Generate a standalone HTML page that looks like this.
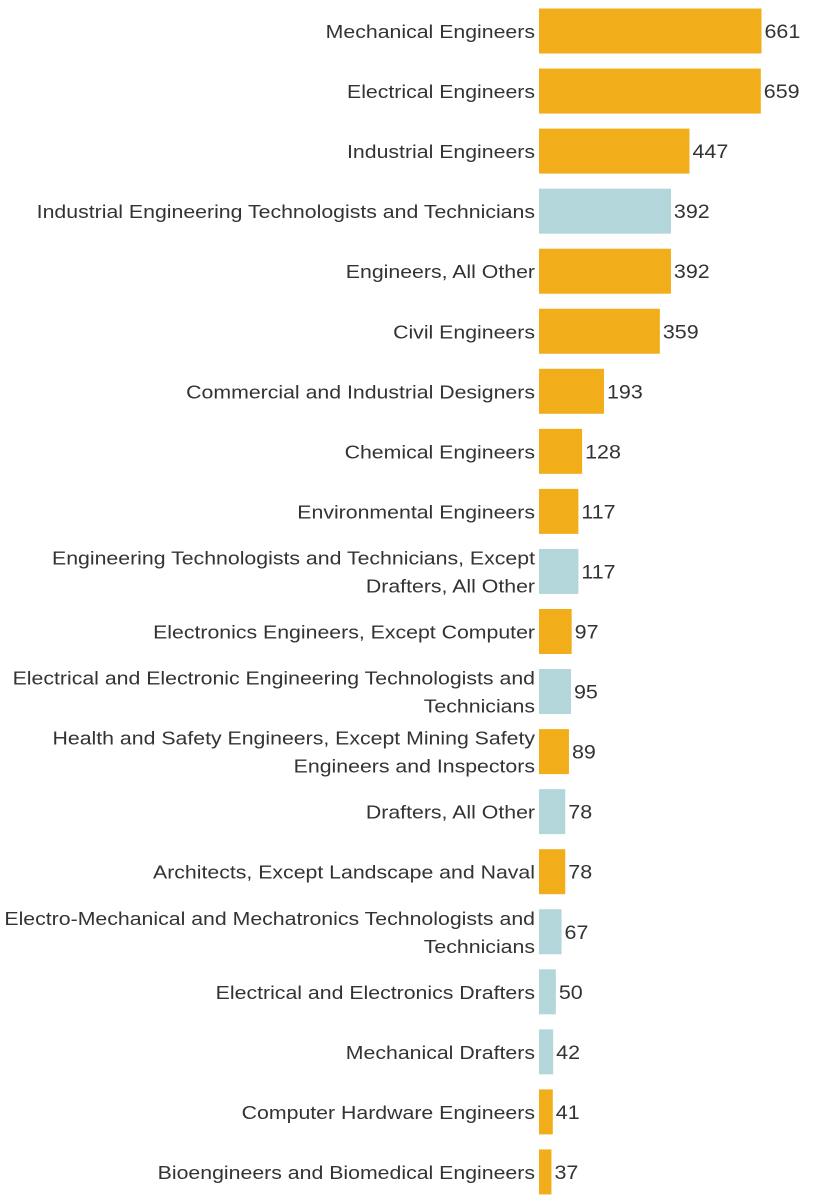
<!DOCTYPE html>
<html><head><meta charset="utf-8"><style>
html,body{margin:0;padding:0;background:#fff;}
svg{display:block;font-family:"Liberation Sans",sans-serif;}
</style></head><body>
<svg id="chart" width="813" height="1202" viewBox="0 0 813 1202"></svg>
<script>
const categories = [
 ["Mechanical Engineers"],["Electrical Engineers"],["Industrial Engineers"],
 ["Industrial Engineering Technologists and Technicians"],["Engineers, All Other"],
 ["Civil Engineers"],["Commercial and Industrial Designers"],["Chemical Engineers"],
 ["Environmental Engineers"],["Engineering Technologists and Technicians, Except","Drafters, All Other"],
 ["Electronics Engineers, Except Computer"],["Electrical and Electronic Engineering Technologists and","Technicians"],
 ["Health and Safety Engineers, Except Mining Safety","Engineers and Inspectors"],["Drafters, All Other"],
 ["Architects, Except Landscape and Naval"],["Electro-Mechanical and Mechatronics Technologists and","Technicians"],
 ["Electrical and Electronics Drafters"],["Mechanical Drafters"],["Computer Hardware Engineers"],
 ["Bioengineers and Biomedical Engineers"]
];
const values = [661,659,447,392,392,359,193,128,117,117,97,95,89,78,78,67,50,42,41,37];
const groups = ["eng","eng","eng","tech","eng","eng","eng","eng","eng","tech","eng","tech","eng","tech","eng","tech","tech","tech","eng","eng"];
const colors = {eng:"#F1AE1A", tech:"#B2D6DA"};
const svg = document.getElementById('chart');
const NS = "http://www.w3.org/2000/svg";
const x0 = 539, xScale = v => x0 + v * (222.5/661);
const yCenter = i => 31 + i * 60.05;
const barH = 45;
function stretch(t, f){
  const w = t.getComputedTextLength();
  t.setAttribute('textLength', (w*f).toFixed(1));
  t.setAttribute('lengthAdjust','spacingAndGlyphs');
}
values.forEach((v,i)=>{
  const cy = yCenter(i);
  const r = document.createElementNS(NS,'rect');
  r.setAttribute('x',x0); r.setAttribute('y',cy-barH/2);
  r.setAttribute('width',xScale(v)-x0); r.setAttribute('height',barH);
  r.setAttribute('fill',colors[groups[i]]);
  
  
  svg.appendChild(r);
  const t = document.createElementNS(NS,'text');
  t.setAttribute('x',xScale(v)+3); t.setAttribute('y',cy+7);
  t.setAttribute('font-size','19'); t.setAttribute('fill','#333');
  t.textContent = v;
  
  
  svg.appendChild(t);
  stretch(t, 1.13);
  const lines = categories[i];
  lines.forEach((ln,k)=>{
    const l = document.createElementNS(NS,'text');
    l.setAttribute('x',535); l.setAttribute('text-anchor','end');
    const off = lines.length===1 ? 7 : (k===0 ? -7 : 21);
    l.setAttribute('y',cy+off);
    l.setAttribute('font-size','18.5'); l.setAttribute('fill','#333');
    l.textContent = ln;
    
    
    svg.appendChild(l);
    stretch(l, 1.15);
  });
});
</script>
</body></html>
